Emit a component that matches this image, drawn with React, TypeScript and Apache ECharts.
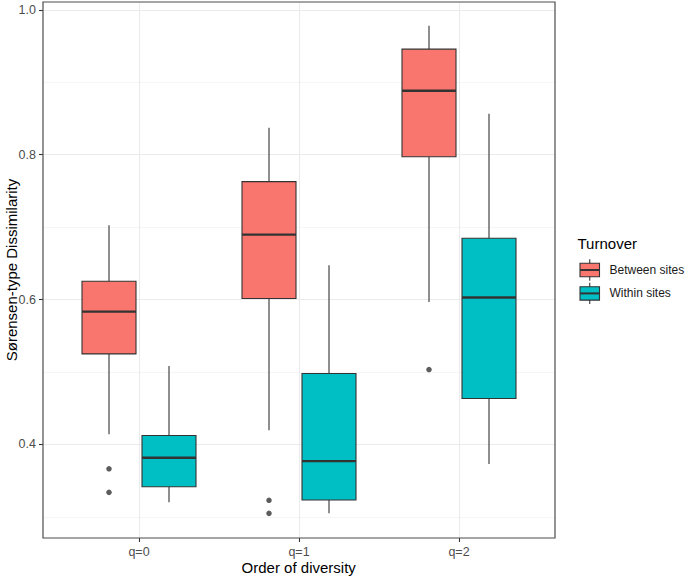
import React, { useEffect, useRef } from "react";
import * as echarts from "echarts";

// ---- data ----
const categories = ["q=0", "q=1", "q=2"];
const groups = ["Between sites", "Within sites"];
// [lower whisker, Q1, median, Q3, upper whisker]
const betweenStats = [
  [0.4142, 0.525, 0.5834, 0.6253, 0.7025],
  [0.4197, 0.6014, 0.6897, 0.7628, 0.8372],
  [0.5967, 0.7972, 0.8883, 0.9457, 0.978],
];
const withinStats = [
  [0.32, 0.3415, 0.3815, 0.4124, 0.5084],
  [0.3048, 0.3232, 0.377, 0.498, 0.6473],
  [0.3728, 0.4634, 0.6028, 0.6846, 0.8566],
];
// [category index, value]
const betweenOutliers = [
  [0, 0.3663],
  [0, 0.3338],
  [1, 0.3228],
  [1, 0.3048],
  [2, 0.5034],
];
const withinOutliers: number[][] = [];
const yTicks = [0.4, 0.6, 0.8, 1.0];
const yMinorTicks = [0.3, 0.5, 0.7, 0.9];
const xTitle = "Order of diversity";
const yTitle = "Sørensen-type Dissimilarity";
const legendTitle = "Turnover";

const COLORS = ["#F8766D", "#00BFC4"];
const DODGE = 0.1875; // half of dodge width 0.75 / 2
const HALF_BOX = 0.16875;
const FONT = "Liberation Sans, Arial, Helvetica, sans-serif";

export default function App() {
  const ref = useRef<HTMLDivElement>(null);
  useEffect(() => {
    if (!ref.current) return;
    const chart = echarts.init(ref.current, undefined, { renderer: "svg" });

    const makeBoxSeries = (stats: number[][], gi: number) => ({
      type: "custom",
      name: groups[gi],
      z: 3,
      data: stats.map((s, i) => [i, ...s]),
      encode: { x: 0, y: [1, 2, 3, 4, 5] },
      renderItem: (params: any, api: any) => {
        const ci = api.value(0);
        const xc = ci + 1 + (gi === 0 ? -DODGE : DODGE);
        const lo = api.value(1), q1 = api.value(2), med = api.value(3), q3 = api.value(4), hi = api.value(5);
        const pc = (x: number, y: number) => api.coord([x, y]);
        const pHi = pc(xc, hi), pQ3 = pc(xc, q3), pQ1 = pc(xc, q1), pLo = pc(xc, lo);
        const tl = pc(xc - HALF_BOX, q3);
        const br = pc(xc + HALF_BOX, q1);
        const ml = pc(xc - HALF_BOX, med);
        const mr = pc(xc + HALF_BOX, med);
        const stroke = "#333333";
        return {
          type: "group",
          children: [
            { type: "line", shape: { x1: pHi[0], y1: pHi[1], x2: pQ3[0], y2: pQ3[1] }, style: { stroke, lineWidth: 1.1 } },
            { type: "line", shape: { x1: pQ1[0], y1: pQ1[1], x2: pLo[0], y2: pLo[1] }, style: { stroke, lineWidth: 1.1 } },
            {
              type: "rect",
              shape: { x: tl[0], y: tl[1], width: br[0] - tl[0], height: br[1] - tl[1] },
              style: { fill: COLORS[gi], stroke, lineWidth: 1.1 },
            },
            { type: "line", shape: { x1: ml[0], y1: ml[1], x2: mr[0], y2: mr[1] }, style: { stroke, lineWidth: 2.4 } },
          ],
        };
      },
    });

    const makeOutlierSeries = (pts: number[][], gi: number) => ({
      type: "scatter",
      name: groups[gi] + " outliers",
      z: 4,
      symbolSize: 5.5,
      itemStyle: { color: "#333333" },
      data: pts.map((p) => [p[0] + 1 + (gi === 0 ? -DODGE : DODGE), p[1]]),
    });

    const legendX = 580;
    const keyW = 19.5;
    const legendItems: any[] = [];
    groups.forEach((g, i) => {
      const top = 263.3 + i * 23.4;
      const h = 13.4;
      const cx = legendX + keyW / 2;
      legendItems.push(
        { type: "line", shape: { x1: cx, y1: top - 4, x2: cx, y2: top + h + 4 }, style: { stroke: "#333", lineWidth: 1.1 } },
        { type: "rect", shape: { x: legendX, y: top, width: keyW, height: h }, style: { fill: COLORS[i], stroke: "#333", lineWidth: 1.1 } },
        { type: "line", shape: { x1: legendX, y1: top + h / 2, x2: legendX + keyW, y2: top + h / 2 }, style: { stroke: "#333", lineWidth: 2 } },
        {
          type: "text",
          x: 609.5,
          y: top + h / 2,
          style: { text: g, fill: "#1a1a1a", font: `12px ${FONT}`, textVerticalAlign: "middle", textAlign: "left" },
        }
      );
    });

    chart.setOption({
      animation: false,
      grid: {
        left: 43,
        right: 130,
        top: 2,
        bottom: 39,
        show: true,
        borderColor: "#4d4d4d",
        borderWidth: 1.2,
        backgroundColor: "transparent",
        z: 10,
        containLabel: false,
        outerBoundsMode: "none",
      },
      xAxis: {
        type: "value",
        min: 0.4,
        max: 3.6,
        axisLine: { show: false },
        axisTick: { show: true, length: 4, customValues: [1, 2, 3], lineStyle: { color: "#333", width: 1.1 } },
        axisLabel: {
          customValues: [1, 2, 3],
          margin: 7,
          fontSize: 12.5,
          color: "#4d4d4d",
          fontFamily: FONT,
          formatter: (v: number) => categories[Math.round(v) - 1] ?? "",
        },
        splitLine: { show: true, lineStyle: { color: "#EBEBEB", width: 1.1 } },
      },
      yAxis: [
        {
          type: "value",
          min: 0.2708,
          max: 1.0108,
          axisLine: { show: false },
          axisTick: { show: true, length: 4, customValues: yTicks, lineStyle: { color: "#333", width: 1.1 } },
          axisLabel: {
            customValues: yTicks,
            margin: 7,
            fontSize: 12.5,
            color: "#4d4d4d",
            fontFamily: FONT,
            formatter: (v: number) => v.toFixed(1),
          },
          splitLine: { show: true, lineStyle: { color: "#EBEBEB", width: 1.1 } },
        },
        {
          type: "value",
          min: 0.2708,
          max: 1.0108,
          position: "left",
          axisLine: { show: false },
          axisTick: { show: false, customValues: yMinorTicks },
          axisLabel: { show: false, customValues: yMinorTicks },
          splitLine: { show: true, lineStyle: { color: "#F2F2F2", width: 0.7 } },
        },
      ],
      series: [
        makeBoxSeries(betweenStats, 0),
        makeBoxSeries(withinStats, 1),
        makeOutlierSeries(betweenOutliers, 0),
        makeOutlierSeries(withinOutliers, 1),
      ],
      graphic: [
        {
          type: "text",
          x: 298.7,
          y: 567,
          style: { text: xTitle, fill: "#000", font: `15px ${FONT}`, textVerticalAlign: "middle", textAlign: "center" },
        },
        {
          type: "text",
          x: 11,
          y: 270,
          rotation: Math.PI / 2,
          style: { text: yTitle, fill: "#000", font: `15px ${FONT}`, textVerticalAlign: "middle", textAlign: "center" },
        },
        {
          type: "text",
          x: 577.5,
          y: 243,
          style: { text: legendTitle, fill: "#000", font: `15px ${FONT}`, textVerticalAlign: "middle", textAlign: "left" },
        },
        ...legendItems,
      ],
    });
    return () => chart.dispose();
  }, []);
  return (
    <div
      ref={ref}
      style={{ position: "fixed", left: 0, top: 0, width: 685, height: 577, background: "#fff" }}
    />
  );
}
